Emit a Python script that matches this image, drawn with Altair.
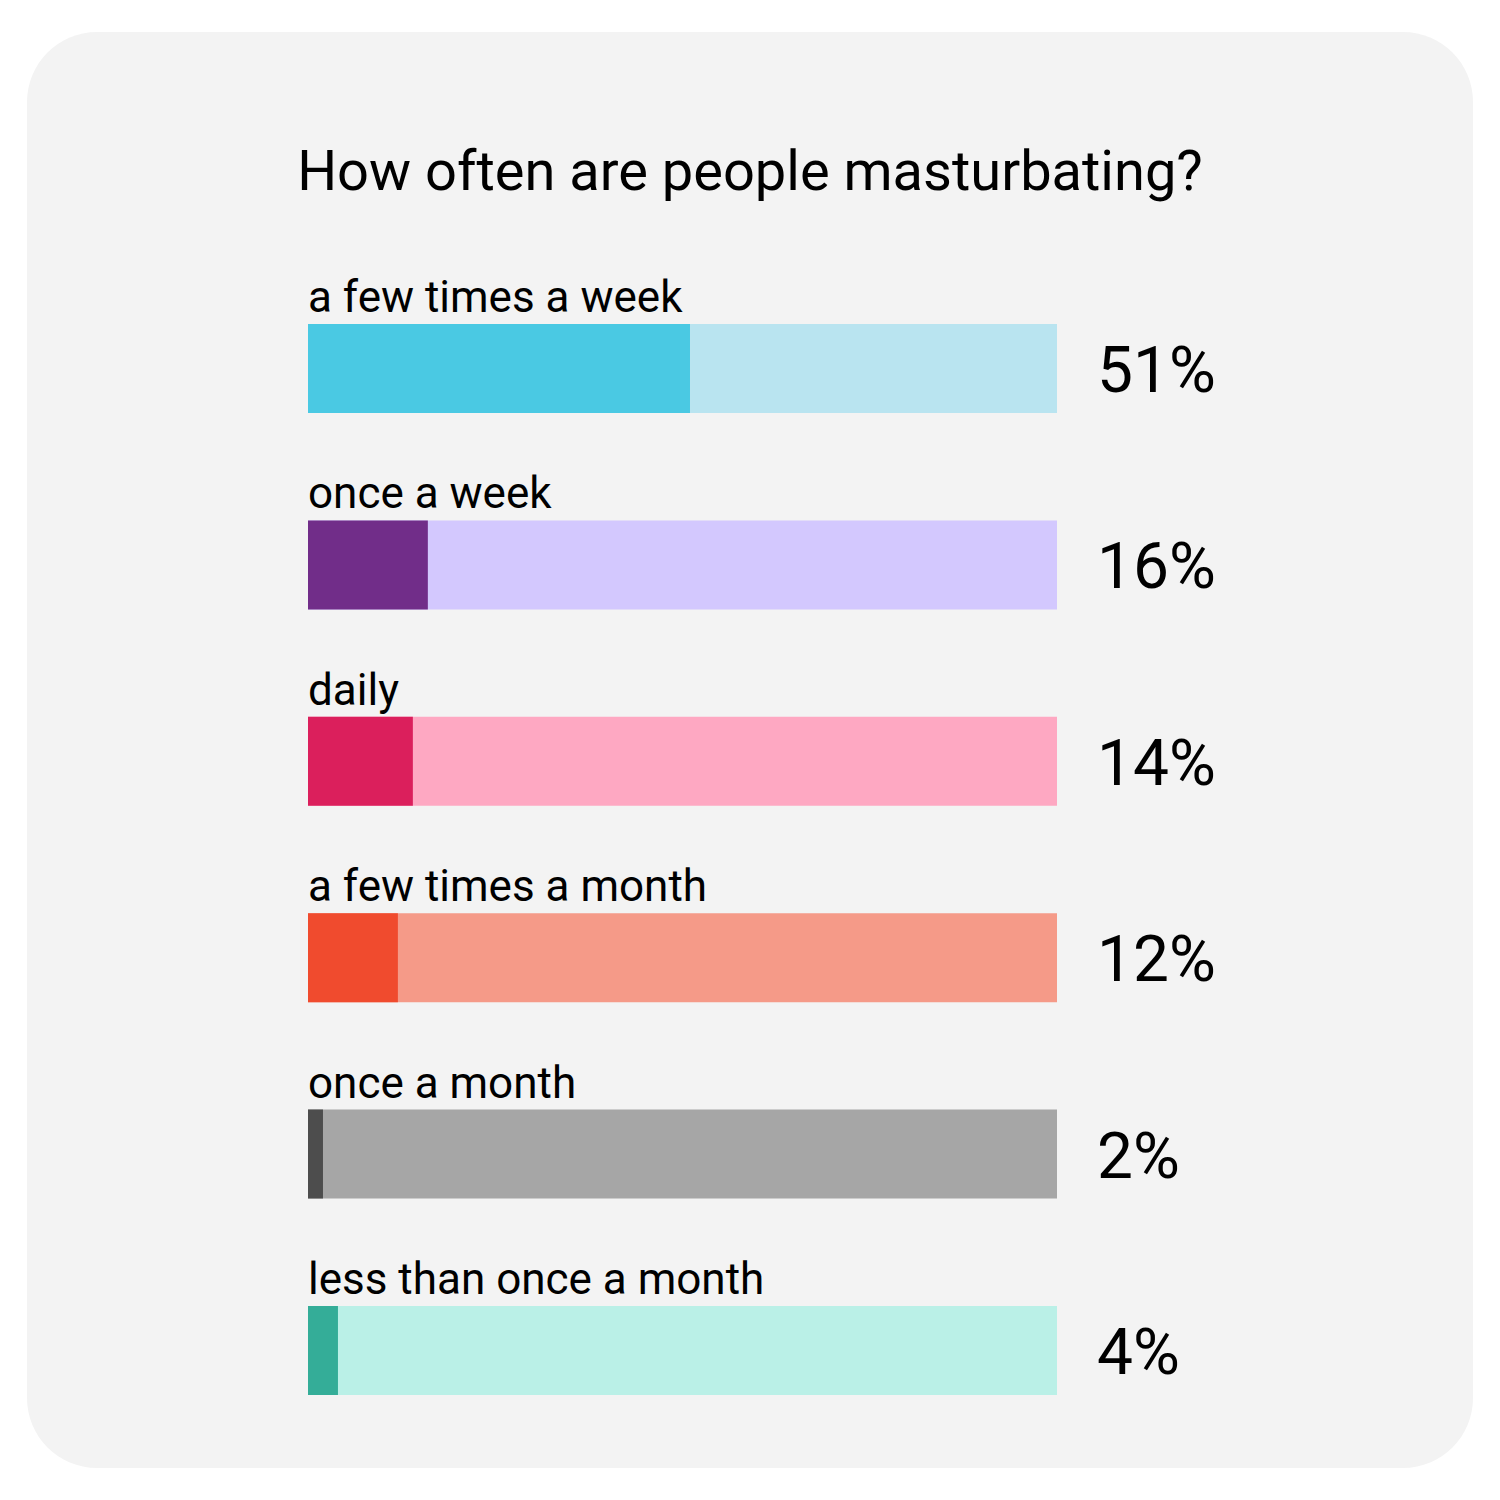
import altair as alt
import pandas as pd

# ---- data ----
categories = ["a few times a week", "once a week", "daily",
              "a few times a month", "once a month", "less than once a month"]
values = [51, 16, 14, 12, 2, 4]
labels = ["51%", "16%", "14%", "12%", "2%", "4%"]
totals = [100, 100, 100, 100, 100, 100]

# ---- styles ----
fg_colors = ["#4AC9E3", "#712D89", "#DB1F5C", "#F04B2E", "#4D4D4D", "#34AD98"]
bg_colors = ["#B9E4F0", "#D3C8FE", "#FEA8C2", "#F59A88", "#A6A6A6", "#BAF0E7"]

df = pd.DataFrame({"category": categories, "value": values,
                   "label": labels, "total": totals})

x_scale = alt.Scale(domain=[0, 100], range=[281, 1030])
y_scale = alt.Scale(domain=categories, range=[292, 1363],
                    paddingInner=0.547, paddingOuter=0)

Y = alt.Y("category:N", scale=y_scale, axis=None, sort=categories)

bg = alt.Chart(df).mark_bar(strokeWidth=0).encode(
    x=alt.X("total:Q", scale=x_scale, axis=None),
    y=Y,
    color=alt.Color("category:N", scale=alt.Scale(domain=categories, range=bg_colors), legend=None),
)

fg = alt.Chart(df).mark_bar(strokeWidth=0).encode(
    x=alt.X("value:Q", scale=x_scale, axis=None),
    y=Y,
    color=alt.Color("category:N", scale=alt.Scale(domain=categories, range=fg_colors), legend=None),
)

cat_text = alt.Chart(df).mark_text(
    align="left", baseline="alphabetic", dy=-56.5,
    font="Roboto", fontSize=44, color="#000000"
).encode(x=alt.datum(0), y=Y, text="category:N")

pct_text = alt.Chart(df).mark_text(
    align="left", baseline="alphabetic", dx=40, dy=23.5,
    font="Roboto", fontSize=64, color="#000000"
).encode(x=alt.datum(100), y=Y, text="label:N")

chart = alt.layer(bg, fg, cat_text, pct_text).resolve_scale(
    color="independent"
).properties(
    width=1446, height=1436,
    autosize=alt.AutoSizeParams(type="none"),
    padding={"left": 19, "top": 24, "right": 0, "bottom": 0},
    background="#ffffff",
    title=alt.Title("How often are people masturbating?",
                    font="Roboto",
                    fontSize=56, fontWeight="normal", color="#000000",
                    anchor="middle", frame="group", offset=-214,
                    baseline="alphabetic"),
).configure_view(
    fill="#F3F3F3", cornerRadius=70, strokeWidth=0
)

chart.save("out.html", embed_options={"renderer": "svg", "actions": False})
